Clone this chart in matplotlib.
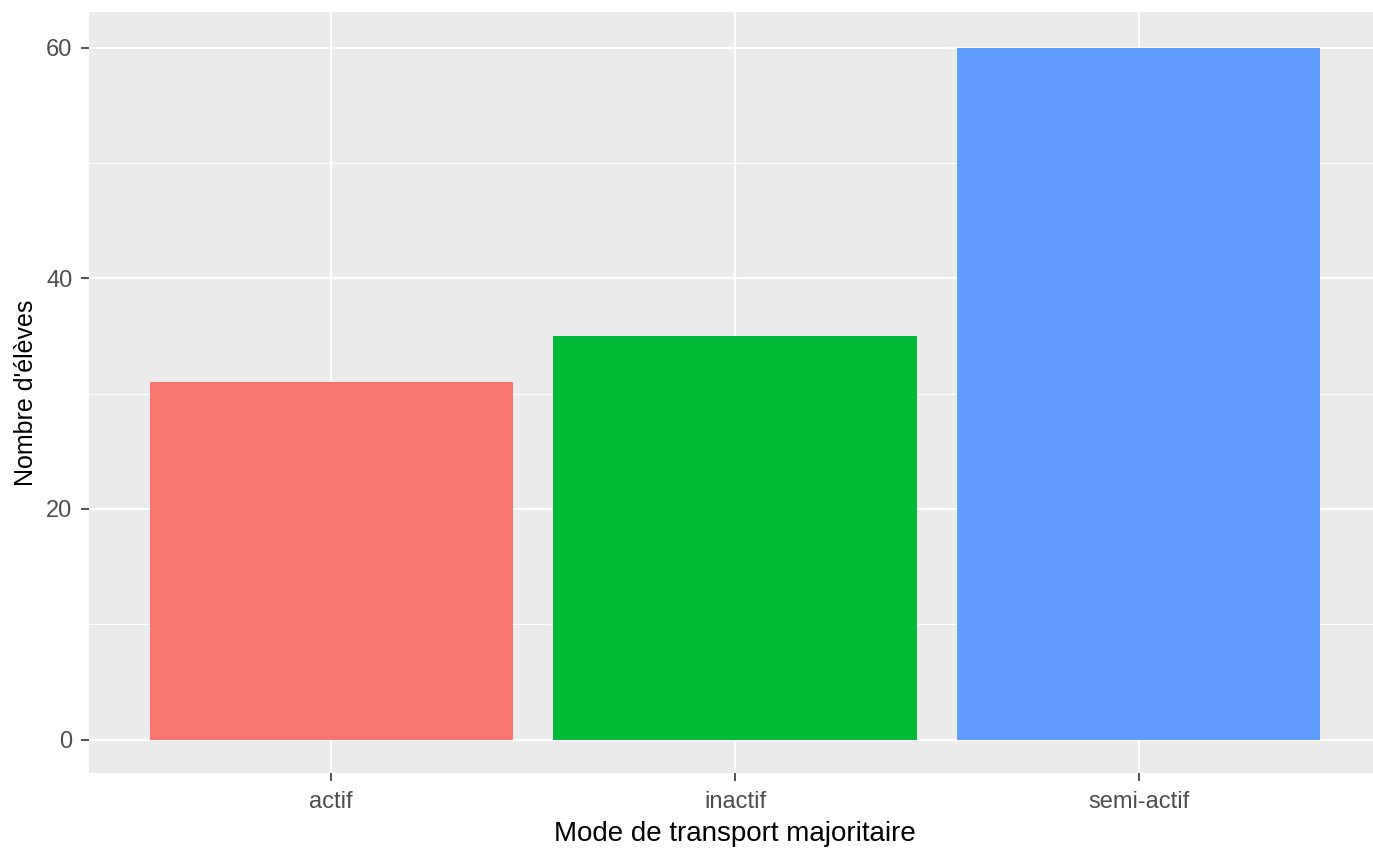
import matplotlib.pyplot as plt

# Données
modes = ["actif", "inactif", "semi-actif"]
eleves = [31, 35, 60]
couleurs = ["#F8766D", "#00BA38", "#619CFF"]

plt.rcParams['font.family'] = ['Liberation Sans', 'DejaVu Sans']

fig = plt.figure(figsize=(13.73, 8.5), dpi=100)
W, H = 1373, 850
ax = fig.add_axes([89 / W, (H - 773) / H, (1381 - 89) / W, (773 - 12) / H])

x = range(1, len(modes) + 1)
ax.set_facecolor("#EBEBEB")
ax.set_axisbelow(True)

# Grille style ggplot
for v in [10, 30, 50]:
    ax.axhline(v, color="white", lw=0.8, zorder=0)
for v in [0, 20, 40, 60]:
    ax.axhline(v, color="white", lw=1.6, zorder=0)
for v in x:
    ax.axvline(v, color="white", lw=1.6, zorder=0)

ax.bar(x, eleves, width=0.9, color=couleurs, zorder=2)

ax.set_xlim(0.4, 3.6)
ax.set_ylim(-2.9, 63.1)
ax.set_xticks(list(x))
ax.set_xticklabels(modes)
ax.set_yticks([0, 20, 40, 60])

for s in ax.spines.values():
    s.set_visible(False)
ax.tick_params(axis="both", labelsize=17, length=6, width=1.2, color="#333333",
               labelcolor="#4D4D4D")
ax.tick_params(axis="x", pad=7)
ax.tick_params(axis="y", pad=6)

ax.set_xlabel("Mode de transport majoritaire", fontsize=20, labelpad=6)
ax.set_ylabel("Nombre d'élèves", fontsize=18, labelpad=6)

fig.savefig("out.png", dpi=100)
